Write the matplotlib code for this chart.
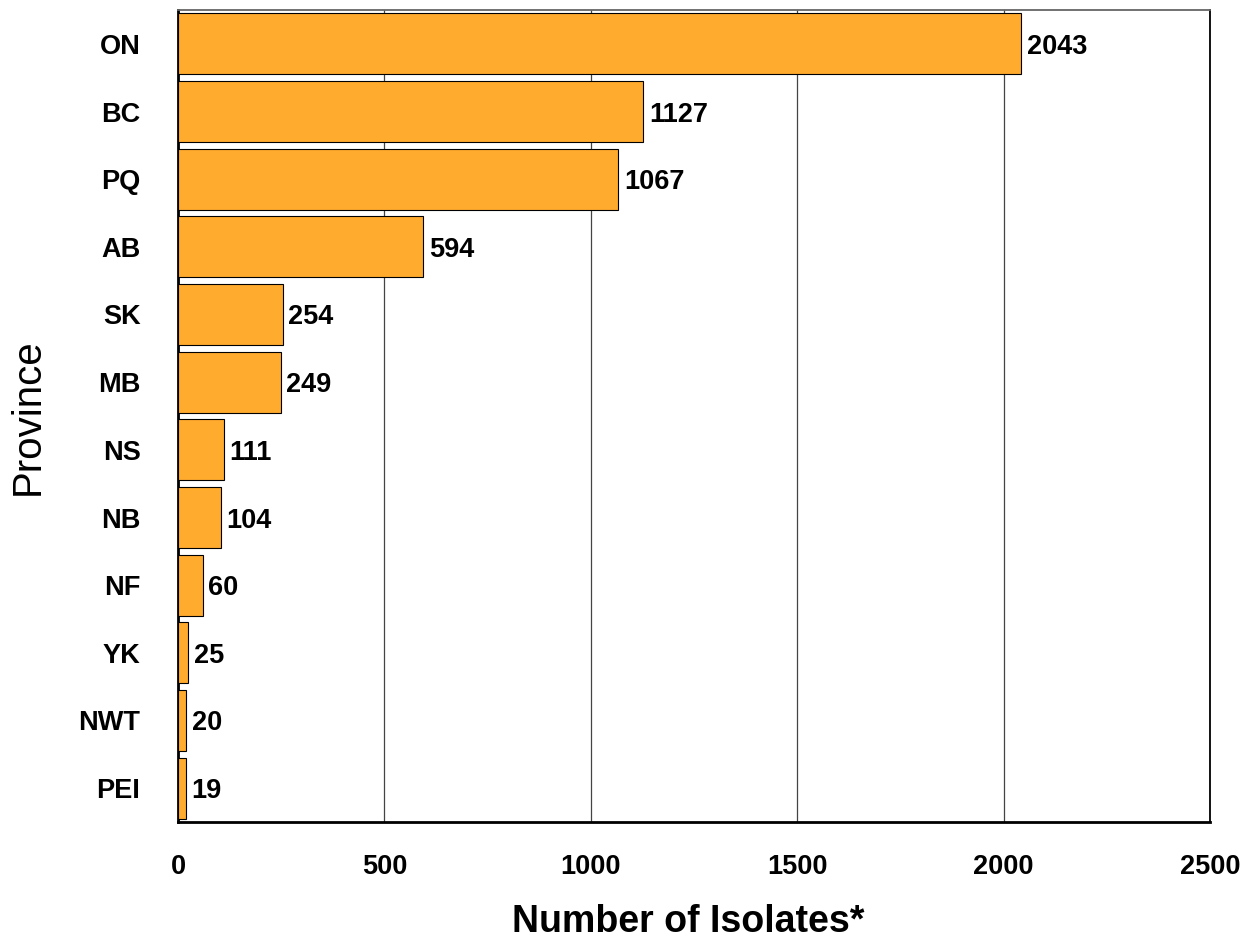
import numpy as np
import matplotlib.pyplot as plt

plt.rcParams['font.family'] = ['Liberation Sans', 'DejaVu Sans']

provinces = ["ON", "BC", "PQ", "AB", "SK", "MB", "NS", "NB", "NF", "YK", "NWT", "PEI"]
isolates = [2043, 1127, 1067, 594, 254, 249, 111, 104, 60, 25, 20, 19]

W, H = 1245, 941
fig = plt.figure(figsize=(W / 100, H / 100), dpi=100)
ax = fig.add_axes([178 / W, 1 - 822 / H, (1210 - 178) / W, (822 - 10) / H])

y = np.arange(len(provinces))
ax.barh(y, isolates, height=0.9, color="#FFAB2E", edgecolor="black", linewidth=0.8, zorder=3)
for yi, v in zip(y, isolates):
    ax.annotate(str(v), (v, yi), xytext=(4, 0), textcoords="offset points",
                va="center_baseline", ha="left", fontsize=19.5, fontweight="bold", zorder=4)

ax.set_xlim(0, 2500)
ax.set_ylim(len(provinces) - 0.5, -0.5)
ax.set_yticks(y)
ax.set_yticklabels(provinces, fontsize=19.5, fontweight="bold")
ax.set_xticks(np.arange(0, 2501, 500))
ax.set_xticklabels([str(t) for t in range(0, 2501, 500)], fontsize=19.5, fontweight="bold")
ax.tick_params(axis="both", length=0)
ax.tick_params(axis="x", pad=23)
ax.tick_params(axis="y", pad=27)
ax.grid(axis="x", color="#444444", linewidth=0.9, zorder=0)

for s in ["left", "bottom"]:
    ax.spines[s].set_linewidth(2)
    ax.spines[s].set_color("black")
ax.spines["right"].set_linewidth(1.3)
ax.spines["top"].set_linewidth(1.3)
ax.spines["top"].set_color("#666666")

# axis titles placed in figure pixels so the x title sits at the bottom edge
fig.text(688 / W, 1.5 / H, "Number of Isolates*", fontsize=27, fontweight="bold",
         ha="center", va="bottom")
fig.text(28 / W, 1 - 417 / H, "Province", fontsize=29, rotation=90,
         ha="center", va="center")

fig.savefig("out.png", dpi=100)
